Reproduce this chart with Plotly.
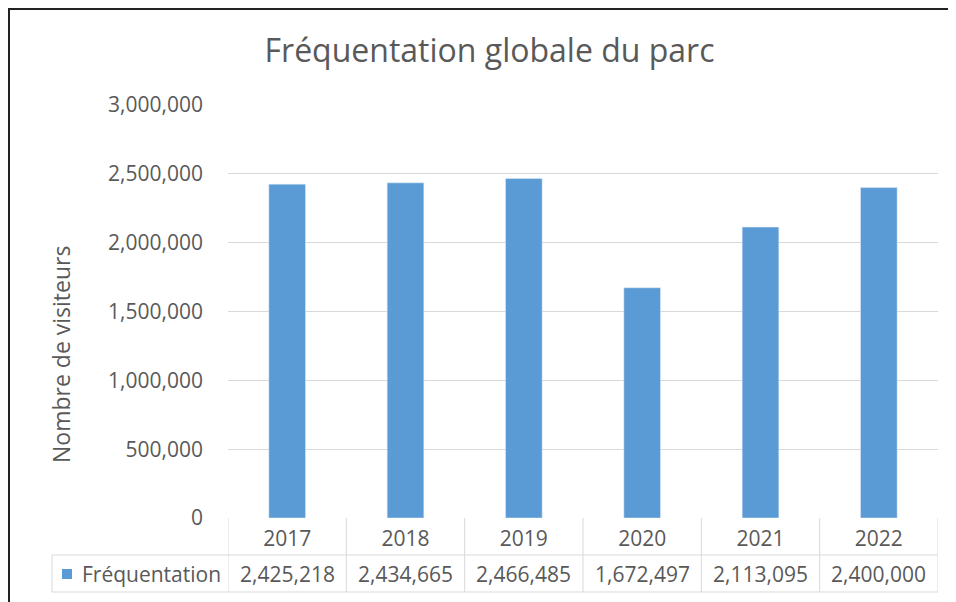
import plotly.graph_objects as go

years = ["2017", "2018", "2019", "2020", "2021", "2022"]
visitors = [2425218, 2434665, 2466485, 1672497, 2113095, 2400000]
series_name = "Fréquentation"
title_text = "Fréquentation globale du parc"
y_title = "Nombre de visiteurs"
y_ticks = [0, 500000, 1000000, 1500000, 2000000, 2500000, 3000000]

# the page body adds an 8px offset, so the layout is drawn 8px up/left
OFF = 8
W, H = 956 - OFF, 602 - OFF
L, R, T, B = 228 - OFF, 18, 105 - OFF, 602 - 518
plot_h = H - T - B
plot_w = W - L - R
FONT = "Open Sans"
TXT = "#595959"
GRID = "#d9d9d9"
BAR = "#5B9BD5"

def py(ref_pix):  # reference pixel y -> paper y
    return (H - B - (ref_pix - OFF)) / plot_h

def px(ref_pix):  # reference pixel x -> paper x
    return ((ref_pix - OFF) - L) / plot_w

fig = go.Figure(go.Bar(x=years, y=visitors, marker_color=BAR, width=0.31,
                       name=series_name, showlegend=False))

row1_bot = py(555)
row2_bot = py(592)
shapes = []
line = dict(color=GRID, width=1)
shapes.append(dict(type="line", xref="paper", yref="paper", x0=px(52), x1=1, y0=row1_bot, y1=row1_bot, line=line))
shapes.append(dict(type="line", xref="paper", yref="paper", x0=px(52), x1=1, y0=row2_bot, y1=row2_bot, line=line))
for i in range(len(years) + 1):
    shapes.append(dict(type="line", xref="x", yref="paper", x0=i - 0.5, x1=i - 0.5,
                       y0=0, y1=row2_bot, line=line))
shapes.append(dict(type="line", xref="paper", yref="paper", x0=px(52), x1=px(52),
                   y0=row1_bot, y1=row2_bot, line=line))
shapes.append(dict(type="rect", xref="paper", yref="paper", x0=px(62), x1=px(72),
                   y0=py(579), y1=py(569), fillcolor=BAR, line=dict(width=0)))
# outer frame (top and left)
shapes.append(dict(type="line", xref="paper", yref="paper", x0=px(OFF), x1=1.2, y0=py(OFF + 1), y1=py(OFF + 1),
                   line=dict(color="#222222", width=2)))
shapes.append(dict(type="line", xref="paper", yref="paper", x0=px(OFF + 1), x1=px(OFF + 1), y0=py(OFF), y1=py(620),
                   line=dict(color="#222222", width=2)))

annotations = []
row2_mid = py((555 + 592) / 2)
for i, v in enumerate(visitors):
    annotations.append(dict(x=i, y=row2_mid, xref="x", yref="paper", text=f"{v:,}",
                            xanchor="center", yanchor="middle",
                            showarrow=False, font=dict(family=FONT, size=21, color=TXT)))
annotations.append(dict(x=px(80), y=row2_mid, xref="paper", yref="paper", text=series_name,
                        xanchor="left", yanchor="middle",
                        showarrow=False, font=dict(family=FONT, size=21, color=TXT)))
annotations.append(dict(x=px(61), y=py(355), xref="paper", yref="paper", text=y_title, textangle=-90,
                        xanchor="center", yanchor="middle",
                        showarrow=False, font=dict(family=FONT, size=23, color=TXT)))

fig.update_layout(
    width=W, height=H,
    margin=dict(l=L, r=R, t=T, b=B),
    paper_bgcolor="white", plot_bgcolor="white",
    title=dict(text=title_text, x=(489.5 - OFF) / W, xanchor="center", y=1 - (51 - OFF) / H, yanchor="middle",
               font=dict(family=FONT, size=32, color=TXT)),
    xaxis=dict(type="category", range=[-0.5, 5.5], tickfont=dict(family=FONT, size=21, color=TXT), ticks="",
               showline=False, showgrid=False, ticklabelstandoff=6),
    yaxis=dict(range=[0, 3000000], tickvals=y_ticks, tickformat=",d",
               tickfont=dict(family=FONT, size=21, color=TXT), gridcolor=GRID, gridwidth=1,
               zeroline=False, showline=False, ticklabelstandoff=24),
    shapes=shapes, annotations=annotations,
    font=dict(family=FONT, color=TXT),
)

fig.write_html("out.html")
